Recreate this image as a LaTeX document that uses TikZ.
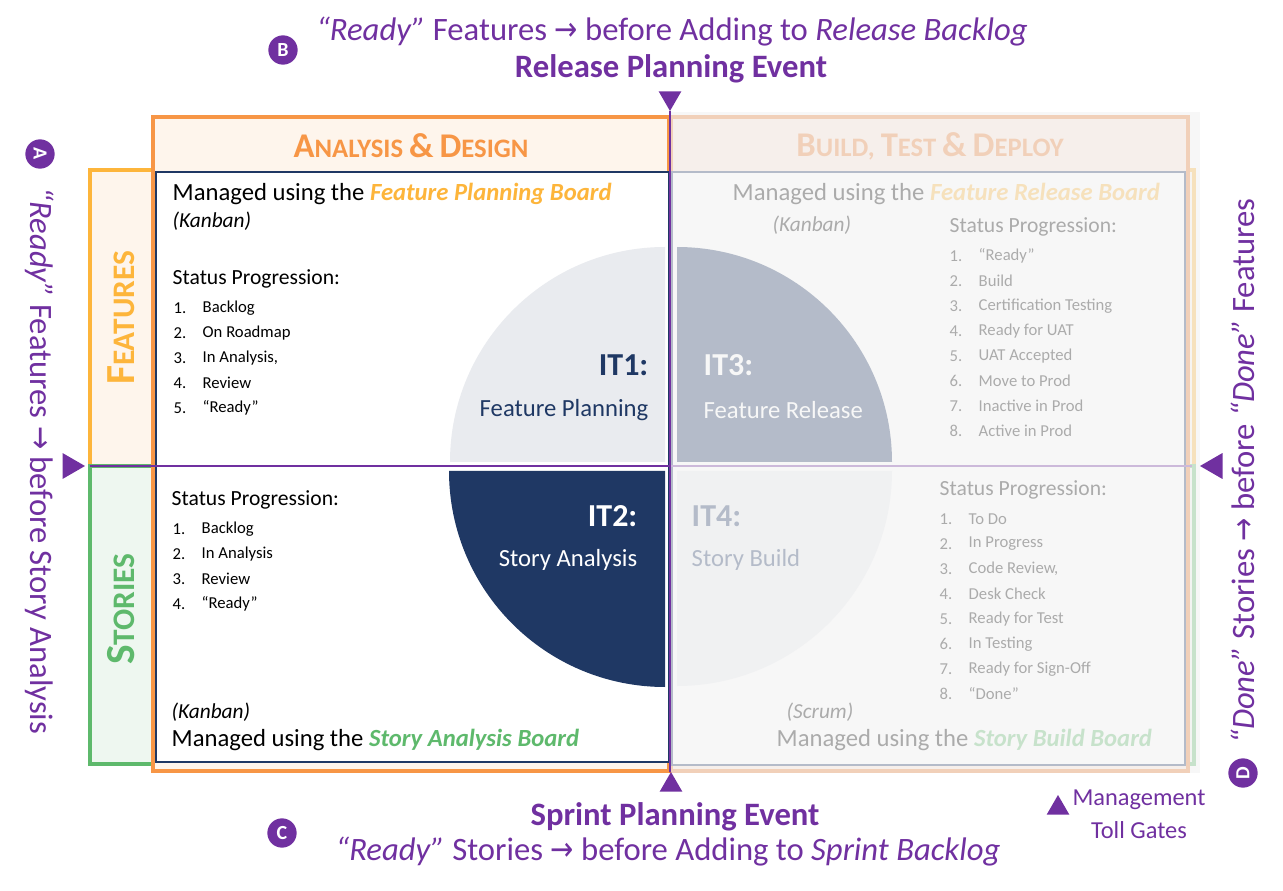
\documentclass[tikz,border=0pt]{standalone}
\usepackage{fontspec}
\setmainfont{Carlito}
\newfontfamily\arrowfont{DejaVu Sans}
\usetikzlibrary{shapes.geometric}
\definecolor{plum}{HTML}{7030A0}
\definecolor{navy}{HTML}{1F3864}
\definecolor{tangerine}{HTML}{F79646}
\definecolor{coral}{HTML}{ED7D31}
\definecolor{gold}{HTML}{FDB53B}
\definecolor{leaf}{HTML}{5EB96C}
\definecolor{haze}{HTML}{E9EBEF}
\definecolor{veil}{HTML}{F4F4F4}
\definecolor{cream}{HTML}{FEF5EC}
\definecolor{mint}{HTML}{EEF7F0}
\definecolor{peach}{HTML}{FBE5D6}
\newcommand{\setsz}[1]{\fontsize{#1}{#1}\selectfont}
\newcommand{\rarr}{{\arrowfont\scalebox{0.85}[1]{→}}}
\newcommand{\colcap}[2]{{\setsz{26}#1}{\setsz{20}#2}}
\newcommand{\rowcap}[2]{{\setsz{31}#1}{\setsz{23.5}#2}}

\begin{document}
\begin{tikzpicture}[x=0.75pt,y=-0.75pt,
  board/.style={anchor=west,font=\setsz{18.5}},
  mode/.style={anchor=west,font=\itshape\setsz{16}},
  status/.style={anchor=west,font=\setsz{16.2}},
  item/.style={anchor=west,font=\setsz{12.5}},
  itnum/.style={font=\bfseries\setsz{24}},
  itname/.style={font=\setsz{18.5}},
  colhead/.style={font=\bfseries\setsz{20}},
  rowhead/.style={font=\bfseries\setsz{23.5},rotate=90},
  caption/.style={text=plum,font=\setsz{24.5}},
  gate/.style={circle,fill=plum,text=white,font=\bfseries\setsz{15},
               minimum size=22pt,inner sep=0pt},
  toll/.style={regular polygon,regular polygon sides=3,fill=plum,
               inner sep=0pt,minimum size=19.5pt}]
  \useasboundingbox (0,0) rectangle (1283,891);

  % rows and columns
  \draw[gold,line width=3pt,fill=cream] (90,170) rectangle (1194,466);
  \draw[leaf,line width=3pt,fill=mint] (90,466) rectangle (1194,764);
  \draw[tangerine,line width=3pt,fill=cream] (153,117) rectangle (669,771);
  \draw[coral,line width=3pt,fill=peach] (671,117) rectangle (1188,771);
  \foreach \x/\y/\w/\h in {156/172/669/466, 156/466/669/762,
                           672/172/1185/466, 672/466/1185/765}
    \draw[navy,line width=1.8pt,fill=white] (\x,\y) rectangle (\w,\h);

  % iteration quarters
  \fill[haze] (665,462) -- ++(-215,0) arc[start angle=180,end angle=270,radius=215] -- cycle;
  \fill[navy] (677,462) -- ++(215,0) arc[start angle=0,end angle=-90,radius=215] -- cycle;
  \fill[navy] (665,471) -- ++(-216,0) arc[start angle=180,end angle=90,radius=216] -- cycle;
  \fill[haze] (677,471) -- ++(215,0) arc[start angle=0,end angle=90,radius=215] -- cycle;

  \node[itnum,text=navy,anchor=east] (it1) at (653,365) {IT1:};
  \node[itname,text=navy,anchor=east] (it1name) at (653,410) {Feature Planning};
  \node[itnum,text=white,anchor=west] (it3) at (699,365) {IT3:};
  \node[itname,text=white,anchor=west] (it3name) at (699,410) {Feature Release};
  \node[itnum,text=white,anchor=east] (it2) at (642,516) {IT2:};
  \node[itname,text=white,anchor=east] (it2name) at (642,560) {Story Analysis};
  \node[itnum,text=navy,anchor=west] (it4) at (687,516) {IT4:};
  \node[itname,text=navy,anchor=west] (it4name) at (687,560) {Story Build};

  % headers
  \node[colhead,text=tangerine] (anahead) at (411,146)
    {\colcap{A}{NALYSIS} \colcap{\&}{} \colcap{D}{ESIGN}};
  \node[colhead,text=coral] (buildhead) at (930,146)
    {\colcap{B}{UILD}, \colcap{T}{EST} \colcap{\&}{} \colcap{D}{EPLOY}};
  \node[rowhead,text=gold] (feathead) at (121,318) {\rowcap{F}{EATURES}};
  \node[rowhead,text=leaf] (storhead) at (121,609) {\rowcap{S}{TORIES}};

  % feature planning
  \node[board] (fpboard) at (168,194)
    {Managed using the {\color{gold}\bfseries\itshape Feature Planning Board}};
  \node[mode] (fpmode) at (168,221) {(Kanban)};
  \node[status] (fpstatus) at (168,279) {Status Progression:};
  \foreach \i/\txt in {1/Backlog, 2/On Roadmap, 3/{In Analysis,}, 4/Review, 5/“Ready”} {
    \node[item] (fpn\i) at (169,{283+25*\i}) {\i.};
    \node[item] (fp\i) at (198,{283+25*\i}) {\txt};
  }

  % story analysis
  \node[status] (sastatus) at (167,500) {Status Progression:};
  \foreach \i/\txt in {1/Backlog, 2/In Analysis, 3/Review, 4/“Ready”} {
    \node[item] (san\i) at (168,{504+25*\i}) {\i.};
    \node[item] (sa\i) at (197,{504+25*\i}) {\txt};
  }
  \node[mode] (samode) at (167,712) {(Kanban)};
  \node[board] (saboard) at (167,740)
    {Managed using the {\color{leaf}\bfseries\itshape Story Analysis Board}};

  % feature release
  \node[board] (frboard) at (728,194)
    {Managed using the {\color{gold}\bfseries\itshape Feature Release Board}};
  \node[mode] (frmode) at (768,225) {(Kanban)};
  \node[status] (frstatus) at (945,227) {Status Progression:};
  \foreach \i/\txt in {1/“Ready", 2/Build, 3/Certification Testing, 4/Ready for UAT,
                       5/UAT Accepted, 6/Move to Prod, 7/Inactive in Prod, 8/Active in Prod} {
    \node[item] (frn\i) at (945,{231+25*\i}) {\i.};
    \node[item] (fr\i) at (974,{231+25*\i}) {\txt};
  }

  % story build
  \node[status] (sbstatus) at (935,490) {Status Progression:};
  \foreach \i/\txt in {1/To Do, 2/In Progress, 3/{Code Review,}, 4/Desk Check,
                       5/Ready for Test, 6/In Testing, 7/Ready for Sign-Off, 8/“Done”} {
    \node[item] (sbn\i) at (935,{494+25*\i}) {\i.};
    \node[item] (sb\i) at (964,{494+25*\i}) {\txt};
  }
  \node[mode] (sbmode) at (782,712) {(Scrum)};
  \node[board] (sbboard) at (772,740)
    {Managed using the {\color{leaf}\bfseries\itshape Story Build Board}};

  \draw[plum,line width=1.9pt] (90,466) -- (1192,466);

  % faded build side
  \fill[veil,opacity=0.7] (671,112) rectangle (1200,773);

  \draw[plum,line width=1.9pt] (670,111) -- (670,772);

  % toll gates
  \node[toll,shape border rotate=180] (gaterel) at (670,98) {};
  \node[toll] (gatespr) at (671,785) {};
  \node[toll,minimum size=22.5pt,shape border rotate=-90] (gateana) at (70,466) {};
  \node[toll,minimum size=22.5pt,shape border rotate=90] (gatedone) at (1215,466) {};
  \node[toll] (tollkey) at (1058,808) {};
  \node[text=plum,font=\setsz{18.3}] (tollline1) at (1139,800) {Management};
  \node[text=plum,font=\setsz{18.3}] (tollline2) at (1139,830) {Toll Gates};

  % captions
  \node[gate] (markb) at (283,50) {B};
  \node[caption] (relgoal) at (672,32)
    {\textit{“Ready”} Features \rarr{} before Adding to \textit{Release Backlog}};
  \node[caption,font=\bfseries\setsz{24.5}] (relevent) at (671,69) {Release Planning Event};
  \node[gate] (markc) at (282,833) {C};
  \node[caption,font=\bfseries\setsz{24.5}] (sprevent) at (675,817) {Sprint Planning Event};
  \node[caption] (sprgoal) at (668,852)
    {\textit{“Ready”} Stories \rarr{} before Adding to \textit{Sprint Backlog}};
  \node[gate,rotate=-90] (marka) at (40,154) {A};
  \node[caption,rotate=-90] (anagoal) at (40,461)
    {\textit{“Ready”} Features \rarr{} before Story Analysis};
  \node[gate,rotate=90] (markd) at (1243,773) {D};
  \node[caption,rotate=90] (donegoal) at (1243,471)
    {\textit{“Done”} Stories \rarr{} before \textit{“Done”} Features};
\end{tikzpicture}
\end{document}
